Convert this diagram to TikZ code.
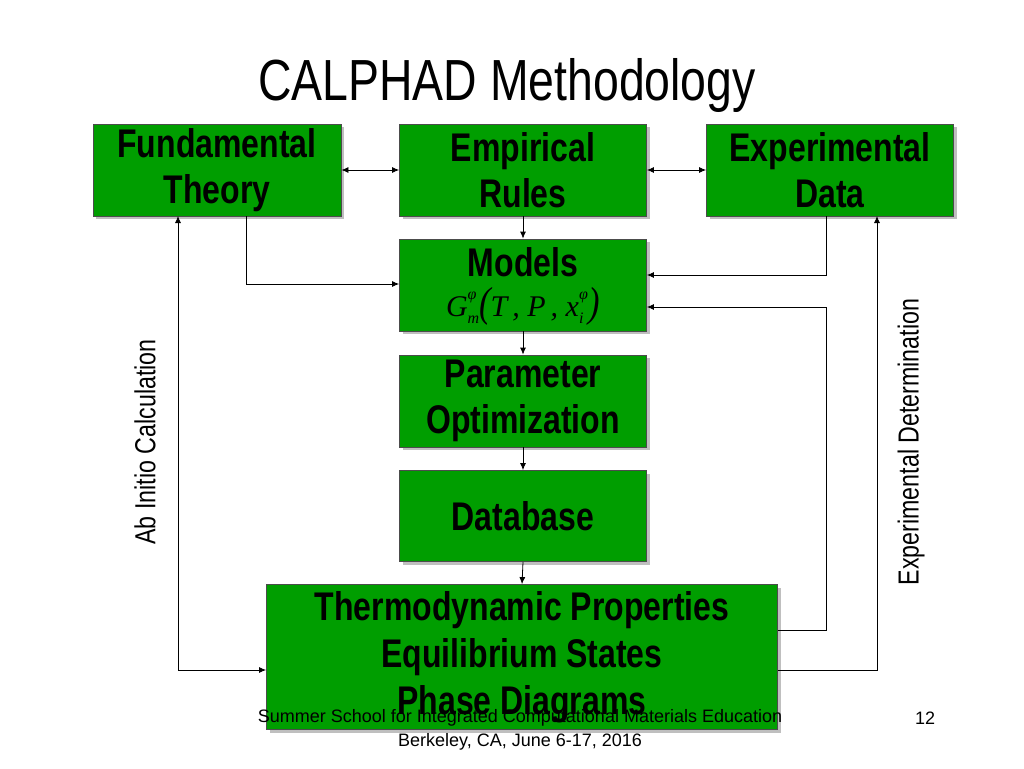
\documentclass[tikz,border=0pt]{standalone}
\usepackage{fontspec}
\setmainfont{Liberation Sans}
\newfontfamily\narrowfont[FakeStretch=0.8]{Liberation Sans}
\newfontfamily\serifit{Liberation Serif}
\usetikzlibrary{arrows.meta,shadows}
\definecolor{boxgreen}{RGB}{0,158,0}
\newcommand{\supsub}[2]{\rlap{\raisebox{0.55em}{\fontsize{16}{16}\selectfont #1}}\raisebox{-0.25em}{\fontsize{16}{16}\selectfont #2}}
\tikzset{
 gbox/.style={draw=black!70,fill=boxgreen,line width=0.8pt,align=center,
   font=\narrowfont\bfseries\fontsize{40}{46}\selectfont,inner sep=0pt,
   drop shadow={shadow xshift=3pt,shadow yshift=-3pt,fill=gray}},
 conn/.style={line width=0.8pt,-{Latex[length=7pt,width=6pt]}},
 biconn/.style={line width=0.8pt,{Latex[length=7pt,width=6pt]}-{Latex[length=7pt,width=6pt]}}
}
\begin{document}
\begin{tikzpicture}[x=1pt,y=-1pt]
\useasboundingbox (0,0) rectangle (1024,768);
\node[font=\narrowfont\fontsize{58}{64}\selectfont] (title) at (507,86) {CALPHAD Methodology};
\node[gbox,minimum width=248,minimum height=92] (fund) at (217,170) {Fundamental\\Theory};
\node[gbox,minimum width=247,minimum height=92] (emp) at (523,170) {Empirical\\Rules};
\node[gbox,minimum width=247,minimum height=92] (exp) at (830,170) {Experimental\\Data};
\node[gbox,minimum width=247,minimum height=92] (mod) at (523,285) {};
\node[font=\narrowfont\bfseries\fontsize{40}{46}\selectfont,anchor=base] (modt) at (523,276) {Models};
\node[font=\serifit\itshape\fontsize{30}{32}\selectfont,anchor=base] (modf) at (523,316) {G\supsub{φ}{m}\scalebox{1.15}[1.4]{(}T\,, P\,, x\supsub{φ}{i}\,\scalebox{1.15}[1.4]{)}};
\node[gbox,minimum width=247,minimum height=92] (par) at (523,401) {Parameter\\Optimization};
\node[gbox,minimum width=247,minimum height=91] (db) at (523,516) {Database};
\node[gbox,minimum width=511,minimum height=145] (th) at (522,657) {};
\node[font=\narrowfont\bfseries\fontsize{40}{47}\selectfont,align=center,anchor=north] (tht) at (522,588) {Thermodynamic Properties\\Equilibrium States\\Phase Diagrams};
\draw[biconn] (fund.east) -- (emp.west);
\draw[biconn] (emp.east) -- (exp.west);
\draw[conn] (emp.south) -- (mod.north);
\draw[conn] (mod.south) -- (par.north);
\draw[conn] (par.south) -- (db.north);
\draw[conn] (db.south) -- (th.north);
\draw[conn] (246,216) |- (mod.west |- 0,284);
\draw[conn] (826,216) |- (mod.east |- 0,275);
\draw[conn] (th.east |- 0,630) -| (826,307) -- (mod.east |- 0,307);
\draw[biconn] (178,216) |- (th.west |- 0,670);
\draw[conn] (th.east |- 0,670) -| (877,216);
\node[rotate=90,font=\narrowfont\fontsize{29}{32}\selectfont] (ab) at (145,442) {Ab Initio Calculation};
\node[rotate=90,font=\narrowfont\fontsize{29}{32}\selectfont] (ed) at (911,442) {Experimental Determination};
\node[font=\fontsize{18}{22}\selectfont] (f1) at (520,718) {Summer School for Integrated Computational Materials Education};
\node[font=\fontsize{18}{22}\selectfont] (f2) at (520,742) {Berkeley, CA, June 6-17, 2016};
\node[font=\fontsize{18}{22}\selectfont] (pg) at (925,718) {12};
\end{tikzpicture}
\end{document}
